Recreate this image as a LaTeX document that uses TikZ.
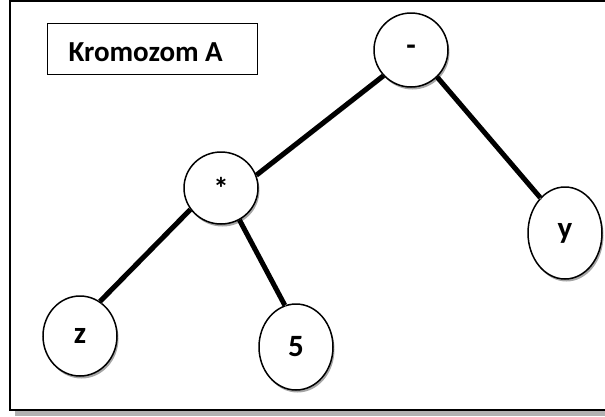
\documentclass[tikz,border=0pt]{standalone}
\usepackage{fontspec}
\setmainfont{Carlito}
\usetikzlibrary{shapes.geometric}
\usetikzlibrary{shadows}

\tikzset{
    gene/.style={ellipse, draw, line width=1.5pt, fill=white, inner sep=0pt,
        minimum width=74pt, font=\fontsize{31}{34}\selectfont\bfseries,
        drop shadow={shadow xshift=1.5pt, shadow yshift=-2.5pt, fill=gray!70, opacity=1}},
    branch/.style={line width=5pt,
        preaction={draw=gray!60, transform canvas={shift={(1.5pt,-2pt)}}}}
}

\begin{document}
\begin{tikzpicture}[x=1pt,y=-1pt]
    \useasboundingbox (0,0) rectangle (605,416);
    \fill[gray!60] (15,410) rectangle (620,416);
    \draw[line width=2.5pt] (10,1) rectangle (620,410);
    \draw[line width=1pt] (47,23) rectangle (257,74);
    \node[anchor=west, font=\fontsize{29}{34}\selectfont\bfseries] (title) at (65,52) {Kromozom A};

    \node[gene, minimum height=74pt] (minus) at (411,50) {-};
    \node[gene, minimum height=72pt] (times) at (221,188) {*};
    \node[gene, minimum height=80pt] (z) at (80,336) {z};
    \node[gene, minimum height=86pt] (five) at (296,347) {5};
    \node[gene, minimum height=92pt] (y) at (565,233) {y};

    \draw[branch] (minus.223) -- (times.20);
    \draw[branch] (minus.-46) -- (y.125);
    \draw[branch] (times.-145) -- (z.60);
    \draw[branch] (times.-60) -- (five.105);
\end{tikzpicture}
\end{document}
